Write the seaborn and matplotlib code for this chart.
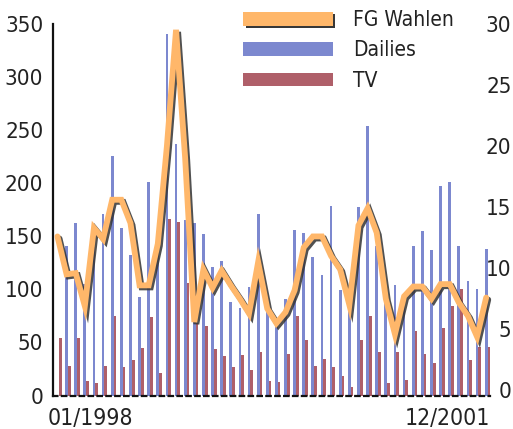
import numpy as np
import pandas as pd
import seaborn as sns
import matplotlib
matplotlib.use("Agg")
import matplotlib.pyplot as plt
import matplotlib.patheffects as pe
import matplotlib.transforms as mtransforms
from matplotlib.patches import Patch

# ---------------- data ----------------
months = list(range(48))  # 01/1998 ... 12/2001
fg_wahlen = [12.6, 9.5, 9.6, 6.9, 13.3, 12.4, 15.6, 15.6, 13.7, 8.6, 8.6, 12.0,
             20.0, 29.5, 19.0, 5.6, 9.9, 8.4, 9.8, 8.6, 7.5, 6.3, 10.5, 6.7,
             5.5, 6.4, 8.2, 11.7, 12.6, 12.6, 11.0, 9.9, 7.0, 13.5, 14.9, 12.9,
             7.5, 4.6, 7.7, 8.5, 8.5, 7.5, 8.7, 8.7, 7.2, 6.1, 4.4, 7.6]
dailies = [None, 141, 162, 105, 140, 171, 225, 158, 132, 93, 201, 140,
           340, 237, 165, 162, 152, 121, 127, 88, 82, 102, 171, 79,
           68, 91, 156, 153, 130, 113, 178, 99, 93, 177, 254, 141,
           90, 104, 85, 141, 155, 137, 197, 201, 141, 108, 100, 138]
tv = [54, 27.6, 54, 14, 11.6, 27.6, 74.5, 26.5, 33, 44.5, 73.6, 21,
      166, 163.5, 106, 68, 65, 44, 37, 27, 38, 24, 40.5, 14,
      13, 38.7, 74.5, 52, 27.4, 34, 26.7, 18, 8, 52, 74.5, 40.5,
      11.6, 41, 15, 61, 38.7, 30.5, 63.5, 84, 100, 33, 46, 45.6]
series_names = ["FG Wahlen", "Dailies", "TV"]
x_labels = ["01/1998", "12/2001"]
left_ticks = [0, 50, 100, 150, 200, 250, 300, 350]
right_ticks = [0, 5, 10, 15, 20, 25, 30]

# ---------------- style ----------------
sns.set_theme(style="white")
plt.rcParams["font.family"] = ["DejaVu Sans"]
plt.rcParams["font.stretch"] = "condensed"

c_orange = "#FFB76A"
c_blue = "#7C88CF"
c_red = "#AF5F69"
c_text = "#222222"

fig = plt.figure(figsize=(5.13, 4.29), dpi=100)
ax = fig.add_axes([53 / 513, 1 - 395.5 / 429, (490 - 53) / 513, 371.8 / 429])

df_d = pd.DataFrame({"x": np.array(months, dtype=float) + 0.0,
                     "y": dailies}).dropna()
df_t = pd.DataFrame({"x": np.array(months, dtype=float) + 0.3, "y": tv})

sns.barplot(data=df_d, x="x", y="y", native_scale=True, width=0.3,
            color=c_blue, saturation=1, errorbar=None, ax=ax,
            linewidth=0)
sns.barplot(data=df_t, x="x", y="y", native_scale=True, width=0.3,
            color=c_red, saturation=1, errorbar=None, ax=ax,
            linewidth=0)

ax.set_xlim(-0.49, 47.42)
ax.set_ylim(0, 350)
ax.set_yticks(left_ticks)
ax.set_yticklabels([str(t) for t in left_ticks], fontsize=16, color=c_text)
ax.tick_params(axis="y", length=0, pad=7)
ax.set_xlabel("")
ax.set_ylabel("")

ax.set_xticks([0, 47])
ax.set_xticklabels(x_labels, fontsize=16.5, color=c_text)
ax.tick_params(axis="x", length=0, pad=8)
xl = ax.get_xticklabels()
xl[0].set_ha("left")
xl[0].set_transform(xl[0].get_transform() +
                    mtransforms.ScaledTranslation(-9.5 / 100, 0, fig.dpi_scale_trans))
xl[1].set_ha("right")
xl[1].set_transform(xl[1].get_transform() +
                    mtransforms.ScaledTranslation(4 / 100, 0, fig.dpi_scale_trans))

for s in ["top", "right"]:
    ax.spines[s].set_visible(False)
ax.spines["left"].set_color("#111111")
ax.spines["left"].set_linewidth(1.6)
ax.spines["bottom"].set_color("#111111")
ax.spines["bottom"].set_linewidth(1.6)
ax.spines["bottom"].set_linestyle((0, (2, 2)))

# ---------------- line (secondary axis) ----------------
ax2 = ax.twinx()
line_fx = [pe.SimpleLineShadow(offset=(1.5, -1.5), shadow_color="#333333",
                               alpha=0.85),
           pe.Normal()]
sns.lineplot(x=months, y=fg_wahlen, ax=ax2, color=c_orange, linewidth=4.2,
             path_effects=line_fx, solid_joinstyle="miter", clip_on=False)
ax2.set_ylim(-0.41, 29.84)
ax2.set_yticks(right_ticks)
ax2.set_yticklabels([str(t) for t in right_ticks], fontsize=16, color=c_text)
ax2.tick_params(axis="y", length=0, pad=15.5)
for lab in ax2.get_yticklabels():
    lab.set_ha("right")
for s in ax2.spines.values():
    s.set_visible(False)
ax2.set_ylabel("")
ax2.set_xlim(-0.49, 47.42)

# ---------------- legend ----------------
handles = [
    Patch(facecolor=c_orange, edgecolor="none",
          path_effects=[pe.SimplePatchShadow(offset=(1.8, -1.8),
                                             shadow_rgbFace="#222222", alpha=0.9),
                        pe.Normal()]),
    Patch(facecolor=c_blue, edgecolor="none"),
    Patch(facecolor=c_red, edgecolor="none"),
]
fig.legend(handles, series_names, loc="upper left",
           bbox_to_anchor=(243 / 513, 1 - 10 / 429), frameon=False,
           fontsize=15, handlelength=4.3, handleheight=0.65,
           handletextpad=1.0, labelspacing=0.5, borderpad=0,
           borderaxespad=0, labelcolor=c_text)

fig.savefig("out.png", dpi=100)
